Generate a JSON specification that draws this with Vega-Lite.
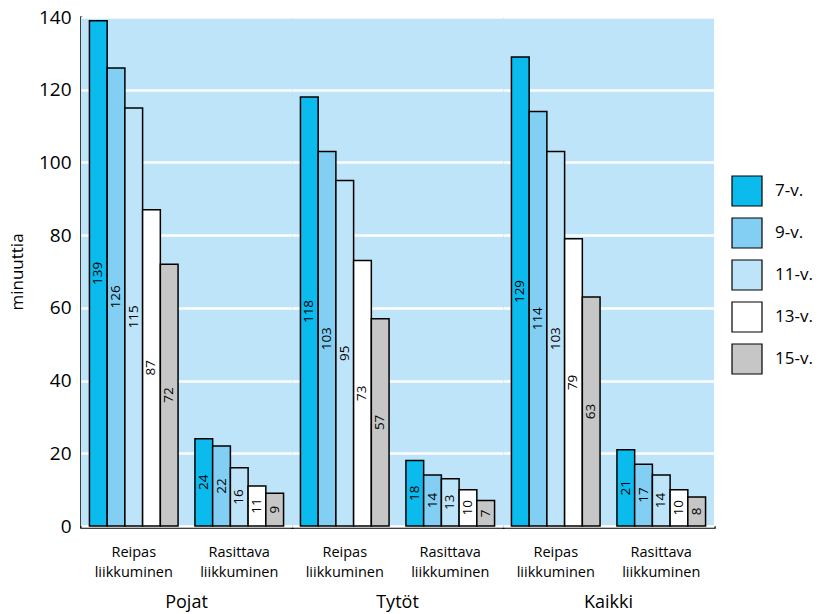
{
  "$schema": "https://vega.github.io/schema/vega-lite/v6.json",
  "padding": {"left": 8, "top": 8, "right": 5, "bottom": 0},
  "data": {"values": [
    {"ryhma": "Pojat", "laji": "Reipas liikkuminen", "ika": "7-v.", "min": 139},
    {"ryhma": "Pojat", "laji": "Reipas liikkuminen", "ika": "9-v.", "min": 126},
    {"ryhma": "Pojat", "laji": "Reipas liikkuminen", "ika": "11-v.", "min": 115},
    {"ryhma": "Pojat", "laji": "Reipas liikkuminen", "ika": "13-v.", "min": 87},
    {"ryhma": "Pojat", "laji": "Reipas liikkuminen", "ika": "15-v.", "min": 72},
    {"ryhma": "Pojat", "laji": "Rasittava liikkuminen", "ika": "7-v.", "min": 24},
    {"ryhma": "Pojat", "laji": "Rasittava liikkuminen", "ika": "9-v.", "min": 22},
    {"ryhma": "Pojat", "laji": "Rasittava liikkuminen", "ika": "11-v.", "min": 16},
    {"ryhma": "Pojat", "laji": "Rasittava liikkuminen", "ika": "13-v.", "min": 11},
    {"ryhma": "Pojat", "laji": "Rasittava liikkuminen", "ika": "15-v.", "min": 9},
    {"ryhma": "Tytöt", "laji": "Reipas liikkuminen", "ika": "7-v.", "min": 118},
    {"ryhma": "Tytöt", "laji": "Reipas liikkuminen", "ika": "9-v.", "min": 103},
    {"ryhma": "Tytöt", "laji": "Reipas liikkuminen", "ika": "11-v.", "min": 95},
    {"ryhma": "Tytöt", "laji": "Reipas liikkuminen", "ika": "13-v.", "min": 73},
    {"ryhma": "Tytöt", "laji": "Reipas liikkuminen", "ika": "15-v.", "min": 57},
    {"ryhma": "Tytöt", "laji": "Rasittava liikkuminen", "ika": "7-v.", "min": 18},
    {"ryhma": "Tytöt", "laji": "Rasittava liikkuminen", "ika": "9-v.", "min": 14},
    {"ryhma": "Tytöt", "laji": "Rasittava liikkuminen", "ika": "11-v.", "min": 13},
    {"ryhma": "Tytöt", "laji": "Rasittava liikkuminen", "ika": "13-v.", "min": 10},
    {"ryhma": "Tytöt", "laji": "Rasittava liikkuminen", "ika": "15-v.", "min": 7},
    {"ryhma": "Kaikki", "laji": "Reipas liikkuminen", "ika": "7-v.", "min": 129},
    {"ryhma": "Kaikki", "laji": "Reipas liikkuminen", "ika": "9-v.", "min": 114},
    {"ryhma": "Kaikki", "laji": "Reipas liikkuminen", "ika": "11-v.", "min": 103},
    {"ryhma": "Kaikki", "laji": "Reipas liikkuminen", "ika": "13-v.", "min": 79},
    {"ryhma": "Kaikki", "laji": "Reipas liikkuminen", "ika": "15-v.", "min": 63},
    {"ryhma": "Kaikki", "laji": "Rasittava liikkuminen", "ika": "7-v.", "min": 21},
    {"ryhma": "Kaikki", "laji": "Rasittava liikkuminen", "ika": "9-v.", "min": 17},
    {"ryhma": "Kaikki", "laji": "Rasittava liikkuminen", "ika": "11-v.", "min": 14},
    {"ryhma": "Kaikki", "laji": "Rasittava liikkuminen", "ika": "13-v.", "min": 10},
    {"ryhma": "Kaikki", "laji": "Rasittava liikkuminen", "ika": "15-v.", "min": 8}
  ]},
  "facet": {
    "column": {
      "field": "ryhma",
      "type": "nominal",
      "sort": ["Pojat", "Tytöt", "Kaikki"],
      "title": null,
      "header": {
        "labelOrient": "bottom",
        "labelFont": "Open Sans",
        "labelFontSize": 18,
        "labelColor": "black",
        "labelPadding": 15
      }
    }
  },
  "spacing": 0,
  "spec": {
    "width": 211,
    "height": 509,
    "encoding": {
      "x": {
        "field": "laji",
        "type": "nominal",
        "sort": ["Reipas liikkuminen", "Rasittava liikkuminen"],
        "title": null,
        "scale": {"paddingInner": 0.16, "paddingOuter": 0.08},
        "axis": {
          "labelAngle": 0,
          "labelExpr": "split(datum.label, ' ')",
          "labelFont": "Open Sans",
          "labelFontSize": 14.5,
          "labelColor": "black",
          "labelLineHeight": 20,
          "labelPadding": 18,
          "ticks": false,
          "domainColor": "black",
          "domainWidth": 2.5
        }
      },
      "xOffset": {
        "field": "ika",
        "type": "nominal",
        "sort": ["7-v.", "9-v.", "11-v.", "13-v.", "15-v."],
        "scale": {"paddingInner": 0, "paddingOuter": 0}
      }
    },
    "layer": [
      {
        "mark": {"type": "bar", "stroke": "black", "strokeWidth": 1.5},
        "encoding": {
          "y": {
            "field": "min",
            "type": "quantitative",
            "scale": {"domain": [0, 140], "nice": false},
            "title": "minuuttia",
            "axis": {
              "values": [0, 20, 40, 60, 80, 100, 120, 140],
              "labelFont": "Open Sans",
              "labelFontSize": 19,
              "labelColor": "black",
              "labelPadding": 10,
              "ticks": false,
              "domainColor": "black",
              "domainWidth": 2.5,
              "gridColor": "white",
              "gridWidth": 2.5,
              "titleFont": "Open Sans",
              "titleFontSize": 17,
              "titleFontWeight": "normal",
              "titleColor": "black",
              "titlePadding": 12
            }
          },
          "fill": {
            "field": "ika",
            "type": "nominal",
            "sort": ["7-v.", "9-v.", "11-v.", "13-v.", "15-v."],
            "scale": {
              "domain": ["7-v.", "9-v.", "11-v.", "13-v.", "15-v."],
              "range": ["#0BBBEE", "#83CFF4", "#BEE4F9", "#FFFFFF", "#C6C6C6"]
            },
            "legend": {
              "title": null,
              "orient": "none",
              "legendX": 650,
              "legendY": 158,
              "symbolType": "square",
              "symbolSize": 900,
              "symbolStrokeColor": "black",
              "symbolStrokeWidth": 1.2,
              "symbolOpacity": 1,
              "labelFont": "Open Sans",
              "labelFontSize": 17,
              "labelColor": "black",
              "labelOffset": 12,
              "rowPadding": 6
            }
          }
        }
      },
      {
        "transform": [{"calculate": "datum.min / 2", "as": "keski"}],
        "mark": {"type": "text", "angle": 270, "fontSize": 13.5, "font": "Open Sans", "color": "black", "align": "center", "baseline": "middle"},
        "encoding": {
          "y": {"field": "keski", "type": "quantitative"},
          "text": {"field": "min", "type": "quantitative"}
        }
      }
    ]
  },
  "config": {
    "view": {"fill": "#BEE4F9", "stroke": null},
    "axis": {"domainCap": "square"}
  }
}
